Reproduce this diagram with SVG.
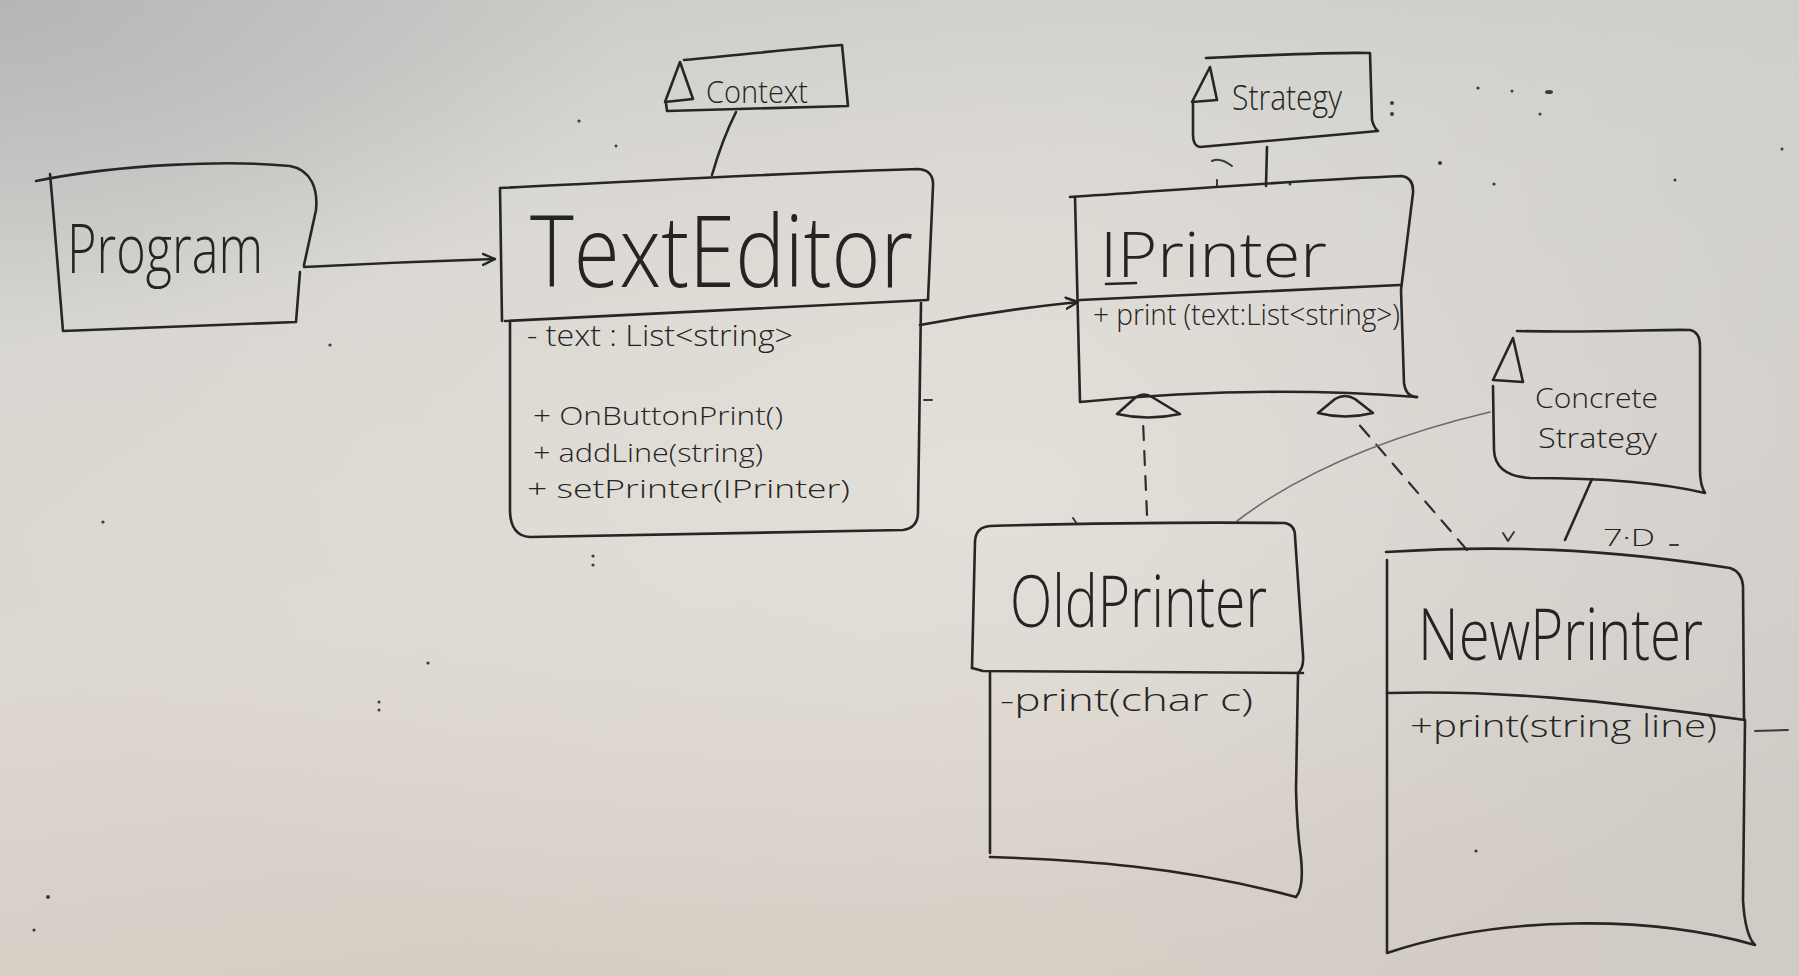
<svg xmlns="http://www.w3.org/2000/svg" width="1799" height="976" viewBox="0 0 1799 976">
  <defs>
    <linearGradient id="bg" x1="0" y1="0" x2="0.25" y2="1">
      <stop offset="0" stop-color="#c9c9c6"/>
      <stop offset="0.3" stop-color="#d8d6d1"/>
      <stop offset="0.65" stop-color="#ddd8d1"/>
      <stop offset="1" stop-color="#d6cdc4"/>
    </linearGradient>
    <radialGradient id="corner" cx="0" cy="0" r="0.35">
      <stop offset="0" stop-color="#aeafb1" stop-opacity="0.75"/>
      <stop offset="1" stop-color="#aeafb1" stop-opacity="0"/>
    </radialGradient>
    <radialGradient id="glow" cx="0.55" cy="0.5" r="0.55">
      <stop offset="0" stop-color="#e4e0da" stop-opacity="0.8"/>
      <stop offset="1" stop-color="#e4e0da" stop-opacity="0"/>
    </radialGradient>
    <linearGradient id="rightgrey" x1="0" y1="0" x2="1" y2="0">
      <stop offset="0.6" stop-color="#c8c8c7" stop-opacity="0"/>
      <stop offset="1" stop-color="#c8c8c7" stop-opacity="0.45"/>
    </linearGradient>
    <marker id="open" viewBox="0 0 14 14" refX="13" refY="7" markerWidth="14" markerHeight="14" orient="auto" markerUnits="userSpaceOnUse">
      <path d="M1,1.5 L13,7 L1,12.5" fill="none" stroke="#262626" stroke-width="2.4" stroke-linecap="round" stroke-linejoin="round"/>
    </marker>
    <style>
      .ink { fill: none; stroke: #262626; stroke-width: 2.6; stroke-linecap: round; stroke-linejoin: round; }
      .thin { fill: none; stroke: #3a3a3a; stroke-width: 2; stroke-linecap: round; stroke-linejoin: round; }
      .faint { fill: none; stroke: #6b6b6b; stroke-width: 1.6; stroke-linecap: round; }
      .dash { fill: none; stroke: #2e2e2e; stroke-width: 2.2; stroke-dasharray: 14 11; stroke-linecap: round; }
      .t { fill: #242424; font-family: "Open Sans", "Liberation Sans", Arial, sans-serif; font-weight: 300; }
      .dot { fill: #3a3a3a; }
    </style>
  </defs>

  <!-- whiteboard background -->
  <rect x="0" y="0" width="1799" height="976" fill="url(#bg)"/>
  <rect x="0" y="0" width="1799" height="976" fill="url(#glow)"/>
  <rect x="0" y="0" width="1799" height="976" fill="url(#rightgrey)"/>
  <rect x="0" y="0" width="1799" height="976" fill="url(#corner)"/>

  <!-- stray marks on the board -->
  <g id="marks">
    <circle class="dot" cx="579" cy="121" r="1.6"/>
    <circle class="dot" cx="616" cy="146" r="1.4"/>
    <circle class="dot" cx="1478" cy="88" r="1.6"/>
    <circle class="dot" cx="1512" cy="91" r="1.5"/>
    <ellipse class="dot" cx="1549" cy="92" rx="4" ry="2"/>
    <circle class="dot" cx="1540" cy="114" r="1.5"/>
    <circle class="dot" cx="1440" cy="163" r="2"/>
    <circle class="dot" cx="1494" cy="184" r="1.6"/>
    <circle class="dot" cx="1675" cy="180" r="1.5"/>
    <circle class="dot" cx="1782" cy="149" r="1.5"/>
    <circle class="dot" cx="1290" cy="184" r="1.5"/>
    <circle class="dot" cx="1392" cy="103" r="2"/>
    <circle class="dot" cx="1392" cy="114" r="2"/>
    <circle class="dot" cx="593" cy="556" r="1.6"/>
    <circle class="dot" cx="593" cy="565" r="1.6"/>
    <circle class="dot" cx="379" cy="702" r="1.5"/>
    <circle class="dot" cx="379" cy="710" r="1.5"/>
    <circle class="dot" cx="103" cy="522" r="1.6"/>
    <circle class="dot" cx="428" cy="663" r="1.6"/>
    <circle class="dot" cx="48" cy="897" r="2"/>
    <circle class="dot" cx="34" cy="930" r="1.6"/>
    <circle class="dot" cx="330" cy="345" r="1.6"/>
    <circle class="dot" cx="1476" cy="851" r="1.6"/>
    <path class="thin" d="M1212,161 Q1220,157 1232,166"/>
    <path class="thin" d="M1217,180 L1217,187"/>
    <path class="thin" d="M924,400 L932,400"/>
    <path class="thin" d="M1503,533 L1508,541 L1514,532"/>
    <path class="thin" d="M1073,518 L1077,524"/>
    <path class="thin" d="M1755,731 L1788,730"/>
    <path class="thin" d="M1670,545 L1678,545"/>
    <text class="t" x="1603" y="546" font-size="24" textLength="52" lengthAdjust="spacingAndGlyphs">7·D</text>
  </g>

  <!-- connectors -->
  <g id="connectors">
    <path class="ink" d="M304,267 Q400,262 495,259" marker-end="url(#open)"/>
    <path class="ink" d="M920,325 Q1000,310 1078,302" marker-end="url(#open)"/>
    <path class="ink" d="M736,112 Q722,140 712,175"/>
    <path class="ink" d="M1267,147 L1266,186"/>
    <path class="dash" d="M1147,515 L1143,421"/>
    <path class="ink" d="M1136,397 Q1144,392 1152,397 L1180,414 Q1148,421 1117,414 Z"/>
    <path class="dash" d="M1467,550 L1356,421"/>
    <path class="ink" d="M1335,399 Q1345,393 1355,399 L1373,413 Q1345,420 1318,413 Z"/>
    <path class="ink" d="M1592,479 L1565,540"/>
    <path class="faint" d="M1490,412 Q1330,450 1237,521"/>
  </g>

  <!-- Program -->
  <g id="program">
    <path class="ink" d="M50,174 C55,230 60,290 63,331 L296,322 L300,272"/>
    <path class="ink" d="M36,181 C120,164 230,160 290,166 C312,170 318,190 316,210 L304,265"/>
    <text class="t" x="67" y="273" font-size="68" textLength="196" lengthAdjust="spacingAndGlyphs">Program</text>
  </g>

  <!-- TextEditor -->
  <g id="texteditor">
    <path class="ink" d="M500,189 L502,321"/>
    <path class="ink" d="M500,188 C650,181 800,172 918,169 Q934,170 933,186 L928,300"/>
    <path class="ink" d="M505,321 L927,300"/>
    <path class="ink" d="M510,322 L510,512 Q511,536 530,537 L903,530 Q918,528 918,512 L921,303"/>
    <text class="t" x="530" y="287" font-size="100" textLength="383" lengthAdjust="spacingAndGlyphs">TextEditor</text>
    <text class="t" x="527" y="346" font-size="29" textLength="266" lengthAdjust="spacingAndGlyphs">- text : List&lt;string&gt;</text>
    <text class="t" x="533" y="425" font-size="26" textLength="250" lengthAdjust="spacingAndGlyphs">+ OnButtonPrint()</text>
    <text class="t" x="533" y="462" font-size="26" textLength="230" lengthAdjust="spacingAndGlyphs">+ addLine(string)</text>
    <text class="t" x="527" y="498" font-size="26" textLength="323" lengthAdjust="spacingAndGlyphs">+ setPrinter(IPrinter)</text>
  </g>

  <!-- Context role -->
  <g id="context">
    <path class="ink" d="M680,62 L665,102 L693,99 Z"/>
    <path class="ink" d="M684,60 C740,55 800,48 842,45 L848,106 L667,111 L666,103"/>
    <text class="t" x="706" y="103" font-size="32" textLength="102" lengthAdjust="spacingAndGlyphs">Context</text>
  </g>

  <!-- IPrinter -->
  <g id="iprinter">
    <path class="ink" d="M1070,197 C1150,192 1300,180 1402,176 Q1414,178 1413,193 L1401,290 L1404,383 Q1406,397 1417,397"/>
    <path class="ink" d="M1075,197 L1080,402 C1180,392 1300,388 1417,397"/>
    <path class="ink" d="M1080,300 L1400,285"/>
    <path class="ink" d="M1106,284 L1136,283"/>
    <text class="t" x="1100" y="277" font-size="62" textLength="227" lengthAdjust="spacingAndGlyphs">IPrinter</text>
    <text class="t" x="1093" y="325" font-size="29" textLength="307" lengthAdjust="spacingAndGlyphs">+ print (text:List&lt;string&gt;)</text>
  </g>

  <!-- Strategy role -->
  <g id="strategy">
    <path class="ink" d="M1210,67 L1192,102 L1217,100 Z"/>
    <path class="ink" d="M1206,58 C1270,55 1330,52 1370,53 L1372,120 Q1374,128 1378,131 L1200,147 Q1193,146 1193,135 L1193,104"/>
    <text class="t" x="1232" y="110" font-size="34" textLength="110" lengthAdjust="spacingAndGlyphs">Strategy</text>
  </g>

  <!-- ConcreteStrategy role -->
  <g id="concrete-strategy">
    <path class="ink" d="M1513,338 L1493,380 L1523,382 Z"/>
    <path class="ink" d="M1517,331 C1600,333 1660,329 1690,330 Q1700,332 1700,346 L1700,470 Q1700,485 1705,493 C1650,480 1580,478 1530,478 Q1495,476 1494,450 L1493,386"/>
    <text class="t" x="1535" y="408" font-size="28" textLength="123" lengthAdjust="spacingAndGlyphs">Concrete</text>
    <text class="t" x="1538" y="448" font-size="28" textLength="119" lengthAdjust="spacingAndGlyphs">Strategy</text>
  </g>

  <!-- OldPrinter -->
  <g id="oldprinter">
    <path class="ink" d="M972,668 L975,541 Q976,527 990,526 C1100,523 1200,522 1285,523 Q1295,525 1295,536 L1303,655 Q1304,668 1298,673"/>
    <path class="ink" d="M972,668 L983,671 L1303,673"/>
    <path class="ink" d="M990,672 L990,853"/>
    <path class="ink" d="M1298,674 L1296,790 Q1297,830 1301,858 Q1304,888 1296,897"/>
    <path class="ink" d="M990,857 C1080,860 1180,866 1296,897"/>
    <text class="t" x="1010" y="627" font-size="72" textLength="257" lengthAdjust="spacingAndGlyphs">OldPrinter</text>
    <text class="t" x="1000" y="711" font-size="32" textLength="253" lengthAdjust="spacingAndGlyphs">-print(char c)</text>
  </g>

  <!-- NewPrinter -->
  <g id="newprinter">
    <path class="ink" d="M1386,552 C1500,545 1600,548 1730,568 Q1742,572 1743,586 L1744,719"/>
    <path class="ink" d="M1387,560 L1387,953 C1500,915 1650,915 1755,945 Q1745,935 1743,900 L1745,721"/>
    <path class="ink" d="M1387,693 C1500,690 1600,700 1745,720"/>
    <text class="t" x="1418" y="660" font-size="72" textLength="285" lengthAdjust="spacingAndGlyphs">NewPrinter</text>
    <text class="t" x="1410" y="737" font-size="32" textLength="307" lengthAdjust="spacingAndGlyphs">+print(string line)</text>
  </g>
</svg>
